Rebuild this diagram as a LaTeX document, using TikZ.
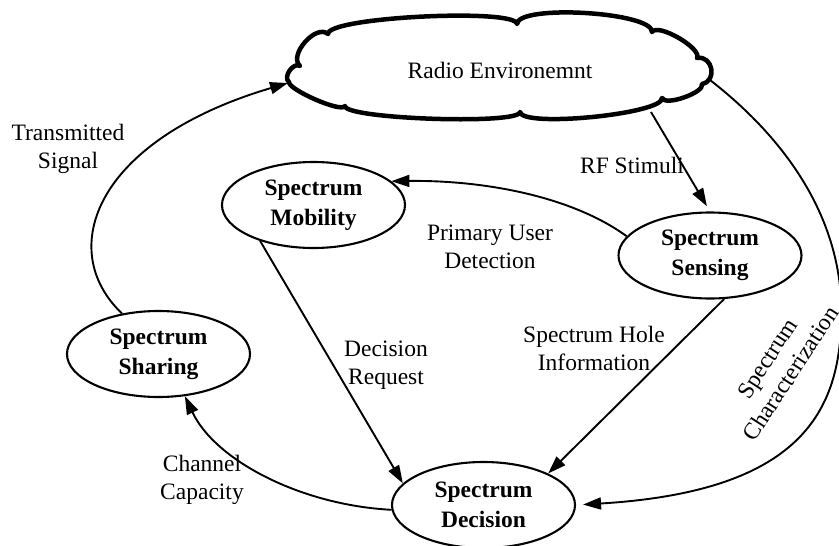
\documentclass[tikz,border=0pt]{standalone}
\usepackage{fontspec}
\setmainfont{Liberation Serif}
\usetikzlibrary{shapes.geometric,arrows.meta}
\begin{document}
\begin{tikzpicture}[x=1pt,y=-1pt,
  ell/.style={ellipse, draw, line width=2.1pt, minimum width=183pt, minimum height=86pt, inner sep=0pt, align=center, font=\fontsize{23.5}{30}\selectfont\bfseries},
  lbl/.style={align=center, inner sep=0pt, font=\fontsize{23.5}{28}\selectfont},
  conn/.style={line width=1.9pt, -{Triangle[length=18pt,width=12pt]}},
  cloudline/.style={line width=4.5pt, line join=round}]
\useasboundingbox (0,0) rectangle (839,546);
% cloud
\draw[cloudline] (289,82)
  .. controls (282.4,77.5) and (293.4,61.5) .. (300,66)
  .. controls (288,55.4) and (316,23.4) .. (328,34)
  .. controls (327,17) and (516,8) .. (517,24)
  .. controls (518,4) and (653,12) .. (652,32)
  .. controls (657.5,22.5) and (702.5,48.5) .. (697,58)
  .. controls (712.7,55) and (717.7,81) .. (702,84)
  .. controls (705,92.5) and (665,106.5) .. (662,98)
  .. controls (663.6,114) and (521.6,128) .. (520,112)
  .. controls (519.6,125) and (344.6,119) .. (345,106)
  .. controls (341.7,113.3) and (287.7,89.3) .. (289,82) -- cycle;
\coordinate (cloudL) at (288,83);
\coordinate (cloudB) at (651,112);
\coordinate (cloudR) at (710,80);
\node[lbl] (env) at (500,70) {Radio Environemnt};
% nodes
\node[ell] (mob) at (313.5,205) {Spectrum\\Mobility};
\node[ell] (sens) at (710,255.5) {Spectrum\\Sensing};
\node[ell] (shar) at (158.5,354) {Spectrum\\Sharing};
\node[ell] (dec) at (483.5,505) {Spectrum\\Decision};
% labels
\node[lbl] (ts) at (68,149) {Transmitted\\Signal};
\node[lbl] (rf) at (632,165) {RF Stimuli};
\node[lbl] (pud) at (490,247) {Primary User\\Detection};
\node[lbl] (dr) at (386,365) {Decision\\Request};
\node[lbl] (shi) at (594,348) {Spectrum Hole\\Information};
\node[lbl] (cc) at (202,480) {Channel\\Capacity};
\node[lbl, rotate=57] (sc) at (779,366) {Spectrum\\Characterization};
% connectors
\draw[conn] (shar.132) .. controls (55,250) and (95,140) .. (cloudL);
\draw[conn, shorten >=6pt] (cloudB) -- (sens.north);
\draw[conn] (sens.167) .. controls (570,195) and (480,180) .. (mob.17);
\draw[conn] (mob.214) -- (dec.165);
\draw[conn] (sens.-72) -- (dec.26);
\draw[conn] (dec.183) .. controls (300,505) and (215,460) .. (shar.-58);
\draw[conn, shorten >=7pt] (cloudR) .. controls (800,150) and (846,235) .. (841,325)
  .. controls (838,420) and (790,492) .. (dec.east);
\end{tikzpicture}
\end{document}
